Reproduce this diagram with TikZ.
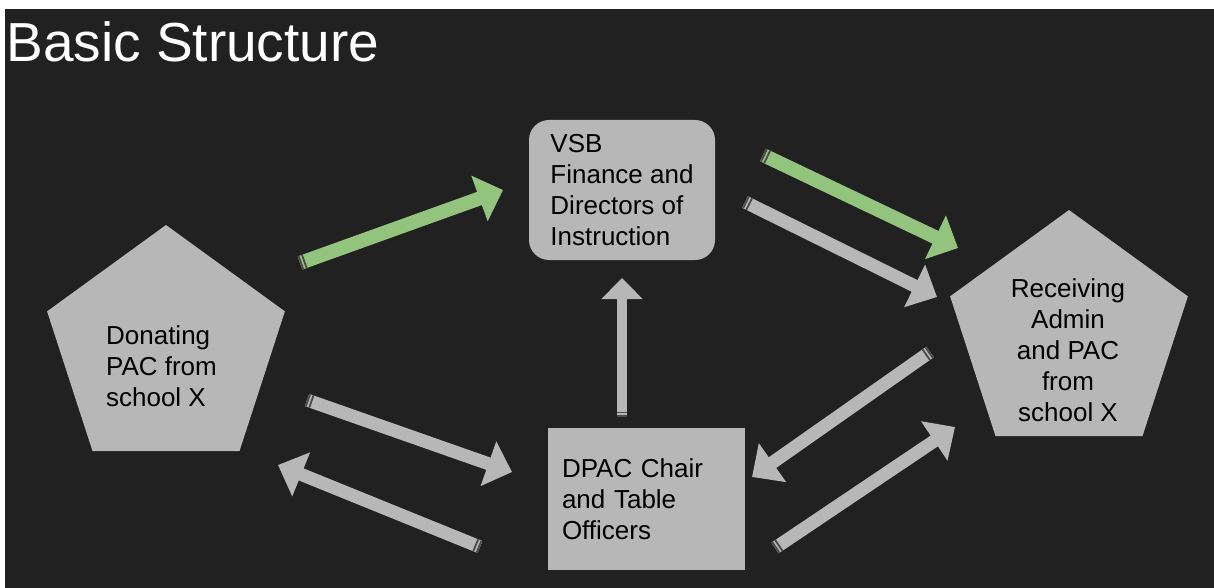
\documentclass[tikz,border=0pt]{standalone}
\usepackage{fontspec}
\setmainfont{Liberation Sans}
\usetikzlibrary{shapes.geometric,arrows.meta,calc}
\definecolor{bg}{HTML}{212121}
\definecolor{boxgrey}{HTML}{B7B7B7}
\definecolor{arrgreen}{HTML}{93C47D}
\definecolor{stripecol}{HTML}{4A4A4A}
\tikzset{
  pent/.style={regular polygon, regular polygon sides=5, fill=boxgrey, draw=none,
    minimum size=125pt, inner sep=0pt},
  lbl/.style={text=black, font=\fontsize{13}{15.5}\selectfont, inner sep=0pt},
  vsbbox/.style={fill=boxgrey, rounded corners=10pt, minimum width=93pt, minimum height=70pt,
    align=left, text=black, font=\fontsize{13}{15.5}\selectfont},
  dpacbox/.style={fill=boxgrey, minimum height=71pt, inner xsep=7pt, text width=84.5pt,
    align=left, text=black, font=\fontsize{13}{15.5}\selectfont},
  garrow/.style={draw=arrgreen, line width=7pt, -{Triangle[width=23.5pt,length=12.5pt]}},
  grarrow/.style={draw=boxgrey, line width=6.5pt, -{Triangle[width=23pt,length=12.5pt]}},
  uparrow/.style={draw=boxgrey, line width=5pt, -{Triangle[width=20pt,length=10.5pt]}},
  stripeline/.style={draw=stripecol, line width=0.9pt},
}
\newcommand\tailmarks[3]{%
  \foreach \d in {0.5pt,2.3pt}{
    \draw[stripeline] ($(#1)!\d!(#2)!#3!90:(#2)$) -- ($(#1)!\d!(#2)!#3!-90:(#2)$);
  }%
}
\begin{document}
\begin{tikzpicture}[x=0.5pt,y=-0.5pt]
\useasboundingbox (0,0) rectangle (1214,588);
\fill[white] (0,0) rectangle (1214,588);
\fill[bg] (5,9) rectangle (1214,588);

\node[anchor=base west, text=white, font=\fontsize{27.5}{33}\selectfont, inner sep=0pt] (title) at (6,62) {Basic Structure};

% nodes
\node[pent] (don) at (166,350) {};
\node[lbl, align=left] (dontext) at (161.5,366) {Donating\\PAC from\\school X};
\node[pent] (rec) at (1069,335) {};
\node[lbl, align=center] (rectext) at (1068,350) {Receiving\\Admin\\and PAC\\from\\school X};
\node[vsbbox] (vsb) at (622,190) {VSB\\Finance and\\Directors of\\Instruction};
\node[dpacbox] (dpac) at (646.5,499) {DPAC Chair\\and Table\\Officers};

% arrow end points
\coordinate (a1t) at (300,263); \coordinate (a1h) at (503,190);
\coordinate (a2t) at (763,155); \coordinate (a2h) at (958,248);
\coordinate (a3t) at (745,202); \coordinate (a3h) at (937,297);
\coordinate (a4t) at (622,417); \coordinate (a4h) at (622,278);
\coordinate (a5t) at (307,400); \coordinate (a5h) at (512,472);
\coordinate (a6t) at (480,547); \coordinate (a6h) at (278,465);
\coordinate (a7t) at (930,352); \coordinate (a7h) at (752,477);
\coordinate (a8t) at (775,548); \coordinate (a8h) at (955,427);

\draw[garrow] (a1t) -- (a1h); \tailmarks{a1t}{a1h}{3.5pt}
\draw[garrow] (a2t) -- (a2h); \tailmarks{a2t}{a2h}{3.5pt}
\draw[grarrow] (a3t) -- (a3h); \tailmarks{a3t}{a3h}{3.25pt}
\draw[uparrow] (a4t) -- (a4h); \tailmarks{a4t}{a4h}{2.5pt}
\draw[grarrow] (a5t) -- (a5h); \tailmarks{a5t}{a5h}{3.25pt}
\draw[grarrow] (a6t) -- (a6h); \tailmarks{a6t}{a6h}{3.25pt}
\draw[grarrow] (a7t) -- (a7h); \tailmarks{a7t}{a7h}{3.25pt}
\draw[grarrow] (a8t) -- (a8h); \tailmarks{a8t}{a8h}{3.25pt}
\end{tikzpicture}
\end{document}
